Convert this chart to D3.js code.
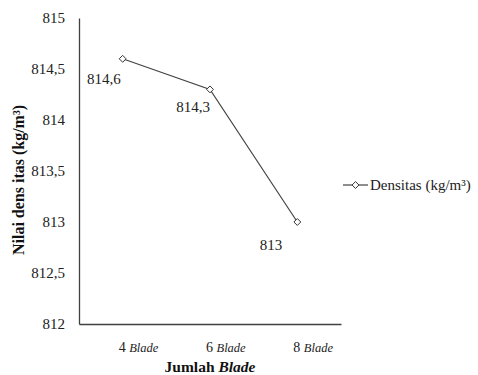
<!DOCTYPE html>
<html>
<head>
<meta charset="utf-8">
<script src="https://cdn.jsdelivr.net/npm/d3@7"></script>
</head>
<body style="margin:0;background:#fff">
<svg id="chart" width="478" height="375"></svg>
<script>
// Density per blade count
const categories = ["4", "6", "8"];
const densityValues = [814.6, 814.3, 813.0];
const densityLabels = ["814,6", "814,3", "813"];
const yTicks = [812, 812.5, 813, 813.5, 814, 814.5, 815];
const seriesName = "Densitas (kg/m³)";

const svg = d3.select("#chart");
const margin = { left: 79, right: 137, top: 18, bottom: 51 };
const W = 478, H = 375;

// Serif face for every label
const serif = sel => sel.style("font-family", '"Times", "Liberation Serif", "Tinos", serif');

const x = d3.scaleBand()
  .domain(categories)
  .range([margin.left, W - margin.right]);

const y = d3.scaleLinear()
  .domain([812, 815])
  .range([H - margin.bottom, margin.top]);

const fmt = d => String(d).replace(".", ",");
const axisColor = "#404040";

// Y axis (line + labels, no tick marks)
const yAxis = svg.append("g")
  .attr("transform", `translate(${margin.left},0)`)
  .call(d3.axisLeft(y).tickValues(yTicks).tickFormat(fmt).tickSize(0).tickPadding(14));
yAxis.select(".domain").attr("stroke", axisColor).attr("stroke-width", 1.3);
yAxis.selectAll("text")
  .call(serif)
  .attr("font-size", 15)
  .attr("fill", "#222");

// X axis line
const xAxis = svg.append("g")
  .attr("transform", `translate(0,${H - margin.bottom})`)
  .call(d3.axisBottom(x).tickSize(0).tickFormat(""));
xAxis.select(".domain").attr("stroke", axisColor).attr("stroke-width", 1.6);

// Category labels: number followed by italic "Blade"
const catLabels = svg.append("g").selectAll("text")
  .data(categories)
  .join("text")
  .call(serif)
  .attr("x", d => x(d) + x.bandwidth() / 2 - 4)
  .attr("y", 352)
  .attr("font-size", 14)
  .attr("fill", "#222");
catLabels.append("tspan").call(serif).text(d => d + " ");
catLabels.append("tspan").call(serif).attr("font-style", "italic").attr("font-size", 12.5).text("Blade");

// Axis titles
const xTitle = svg.append("text")
  .call(serif)
  .attr("x", 210)
  .attr("y", 372)
  .attr("text-anchor", "middle")
  .attr("font-weight", "bold")
  .attr("font-size", 15.5)
  .attr("fill", "#111");
xTitle.append("tspan").call(serif).text("Jumlah ");
xTitle.append("tspan").call(serif).attr("font-style", "italic").text("Blade");

svg.append("text")
  .call(serif)
  .attr("transform", "translate(24,180) rotate(-90)")
  .attr("text-anchor", "middle")
  .attr("font-weight", "bold")
  .attr("font-size", 16)
  .attr("fill", "#111")
  .text("Nilai dens itas (kg/m³)");

// Series line
const pts = categories.map((c, i) => [x(c) + x.bandwidth() / 2, y(densityValues[i])]);
svg.append("path")
  .attr("d", d3.line()(pts))
  .attr("fill", "none")
  .attr("stroke", "#444")
  .attr("stroke-width", 1.2);

// Diamond markers
const diamond = d3.symbol().type(d3.symbolDiamond2).size(30);
svg.append("g").selectAll("path")
  .data(pts)
  .join("path")
  .attr("transform", d => `translate(${d[0]},${d[1]})`)
  .attr("d", diamond)
  .attr("fill", "#fff")
  .attr("stroke", "#333")
  .attr("stroke-width", 1);

// Value labels
const labelOffsets = [[-2, 25], [0, 23], [-15, 28]];
svg.append("g").selectAll("text")
  .data(pts)
  .join("text")
  .call(serif)
  .attr("x", (d, i) => d[0] + labelOffsets[i][0])
  .attr("y", (d, i) => d[1] + labelOffsets[i][1])
  .attr("text-anchor", "end")
  .attr("font-size", 15)
  .attr("fill", "#222")
  .text((d, i) => densityLabels[i]);

// Legend
const lg = svg.append("g").attr("transform", "translate(343,185)");
lg.append("line").attr("x1", 0).attr("x2", 25).attr("y1", 0).attr("y2", 0)
  .attr("stroke", "#444").attr("stroke-width", 1.2);
lg.append("path").attr("transform", "translate(12.5,0)").attr("d", diamond)
  .attr("fill", "#fff").attr("stroke", "#333").attr("stroke-width", 1);
lg.append("text").attr("x", 27).attr("y", 5)
  .call(serif)
  .attr("font-size", 15).attr("fill", "#222")
  .text(seriesName);
</script>
</body>
</html>
